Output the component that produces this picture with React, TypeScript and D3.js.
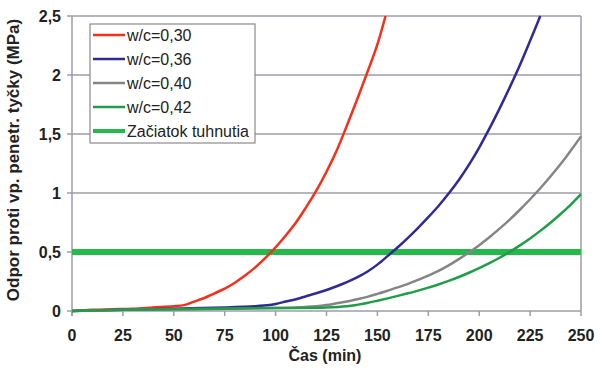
import React from "react";
import * as d3 from "d3";

const xTicks = [0, 25, 50, 75, 100, 125, 150, 175, 200, 225, 250];
const yTicks = [0, 0.5, 1, 1.5, 2, 2.5];
const yTickLabels = ["0", "0,5", "1", "1,5", "2", "2,5"];

const redT = [0, 10, 20, 30, 40, 50, 55, 60, 65, 70, 75, 80, 85, 90, 95, 100, 105, 110, 115, 120, 125, 130, 135, 140, 145, 150, 154];
const redV = [0, 0.01, 0.015, 0.02, 0.03, 0.04, 0.05, 0.08, 0.11, 0.15, 0.19, 0.24, 0.3, 0.37, 0.45, 0.54, 0.64, 0.75, 0.88, 1.02, 1.18, 1.36, 1.57, 1.79, 2.02, 2.26, 2.5];

const blueT = [0, 25, 50, 75, 90, 97, 100, 105, 110, 115, 120, 125, 130, 135, 140, 145, 150, 155, 160, 165, 170, 175, 180, 185, 190, 195, 200, 205, 210, 215, 220, 225, 230];
const blueV = [0, 0.01, 0.02, 0.03, 0.04, 0.05, 0.06, 0.08, 0.1, 0.125, 0.15, 0.178, 0.21, 0.245, 0.285, 0.333, 0.393, 0.465, 0.54, 0.62, 0.705, 0.795, 0.89, 0.995, 1.11, 1.24, 1.385, 1.545, 1.715, 1.895, 2.085, 2.29, 2.5];

const grayT = [0, 25, 50, 75, 100, 110, 120, 125, 130, 135, 140, 145, 150, 155, 160, 165, 170, 175, 180, 185, 190, 195, 200, 205, 210, 215, 220, 225, 230, 235, 240, 245, 250];
const grayV = [0, 0.01, 0.015, 0.02, 0.025, 0.03, 0.04, 0.05, 0.065, 0.08, 0.1, 0.12, 0.145, 0.172, 0.2, 0.23, 0.264, 0.3, 0.34, 0.387, 0.44, 0.497, 0.558, 0.625, 0.698, 0.775, 0.858, 0.947, 1.04, 1.14, 1.245, 1.36, 1.48];

const greenT = [0, 25, 50, 75, 100, 125, 135, 140, 145, 150, 155, 160, 165, 170, 175, 180, 185, 190, 195, 200, 205, 210, 215, 220, 225, 230, 235, 240, 245, 250];
const greenV = [0, 0.01, 0.015, 0.02, 0.025, 0.03, 0.04, 0.052, 0.068, 0.087, 0.107, 0.128, 0.15, 0.173, 0.198, 0.225, 0.255, 0.288, 0.324, 0.363, 0.405, 0.451, 0.501, 0.556, 0.615, 0.679, 0.748, 0.822, 0.902, 0.99];

const thresholdT = [0, 250];
const thresholdV = [0.5, 0.5];

const seriesNames = ["w/c=0,30", "w/c=0,36", "w/c=0,40", "w/c=0,42", "Začiatok tuhnutia"];

const W = 600, H = 373;
const M = { left: 72, right: 581, top: 16, bottom: 311 };
const FONT = "'Liberation Sans', Arial, sans-serif";

export default function App() {
  const x = d3.scaleLinear().domain([0, 250]).range([M.left, M.right]);
  const y = d3.scaleLinear().domain([0, 2.5]).range([M.bottom, M.top]);
  const line = d3
    .line<[number, number]>()
    .x((d) => x(d[0]))
    .y((d) => y(d[1]))
    .curve(d3.curveCatmullRom.alpha(0.5));

  const series = [
    { t: redT, v: redV, color: "#f4301a", w: 2.5 },
    { t: blueT, v: blueV, color: "#2f2a94", w: 2.5 },
    { t: grayT, v: grayV, color: "#858585", w: 2.5 },
    { t: greenT, v: greenV, color: "#1f9d48", w: 2.5 },
  ];
  const legendStyles = [
    { color: "#f4301a", w: 2.5 },
    { color: "#2f2a94", w: 2.5 },
    { color: "#858585", w: 2.5 },
    { color: "#1f9d48", w: 2.5 },
    { color: "#25b84b", w: 4 },
  ];
  const gridColor = "#9c9ca8";

  return (
    <svg width={W} height={H} style={{ position: "absolute", left: 0, top: 0, background: "#fff" }} fontFamily={FONT}>
      <rect x={0} y={0} width={W} height={H} fill="#fff" />
      {yTicks.filter((t) => t > 0).map((t) => (
        <line key={"g" + t} x1={M.left} x2={M.right} y1={y(t)} y2={y(t)} stroke={gridColor} strokeWidth={1.5} />
      ))}
      <line x1={M.right} x2={M.right} y1={M.top} y2={M.bottom} stroke={gridColor} strokeWidth={1.5} />
      <line x1={M.left} x2={M.left} y1={M.top} y2={M.bottom + 5} stroke={gridColor} strokeWidth={1.5} />
      <line x1={M.left} x2={M.right} y1={M.bottom} y2={M.bottom} stroke={gridColor} strokeWidth={1.5} />
      {yTicks.map((t, i) => (
        <g key={"yt" + t}>
          <line x1={M.left - 5} x2={M.left} y1={y(t)} y2={y(t)} stroke={gridColor} strokeWidth={1.5} />
          <text x={61} y={y(t) + 5.8} textAnchor="end" fontSize={16} fontWeight="bold" fill="#222">
            {yTickLabels[i]}
          </text>
        </g>
      ))}
      {xTicks.map((t) => (
        <g key={"xt" + t}>
          <line x1={x(t)} x2={x(t)} y1={M.bottom} y2={M.bottom + 5} stroke={gridColor} strokeWidth={1.5} />
          <text x={x(t)} y={341} textAnchor="middle" fontSize={16} fontWeight="bold" fill="#222">
            {t}
          </text>
        </g>
      ))}
      <path
        d={line(thresholdT.map((t, i) => [t, thresholdV[i]]) as [number, number][]) || ""}
        fill="none"
        stroke="#25b84b"
        strokeWidth={6}
      />
      {series.map((s, k) => (
        <path
          key={"s" + k}
          d={line(s.t.map((t, i) => [t, s.v[i]]) as [number, number][]) || ""}
          fill="none"
          stroke={s.color}
          strokeWidth={s.w}
          strokeLinejoin="round"
        />
      ))}
      <text x={325} y={361} textAnchor="middle" fontSize={16} fontWeight="bold" fill="#222">
        Čas (min)
      </text>
      <text
        transform={`translate(19,160) rotate(-90)`}
        textAnchor="middle"
        fontSize={17}
        fontWeight="bold"
        fill="#222"
      >
        Odpor proti vp. penetr. tyčky (MPa)
      </text>
      <rect x={90} y={24} width={165} height={119} fill="#fff" stroke="#8a8a8a" strokeWidth={1.2} />
      {seriesNames.map((n, i) => {
        const cy = 35 + i * 24;
        return (
          <g key={"l" + i}>
            <line x1={93} x2={125} y1={cy} y2={cy} stroke={legendStyles[i].color} strokeWidth={legendStyles[i].w} />
            <text x={127} y={cy + 5.5} fontSize={16} fill="#222">
              {n}
            </text>
          </g>
        );
      })}
    </svg>
  );
}
